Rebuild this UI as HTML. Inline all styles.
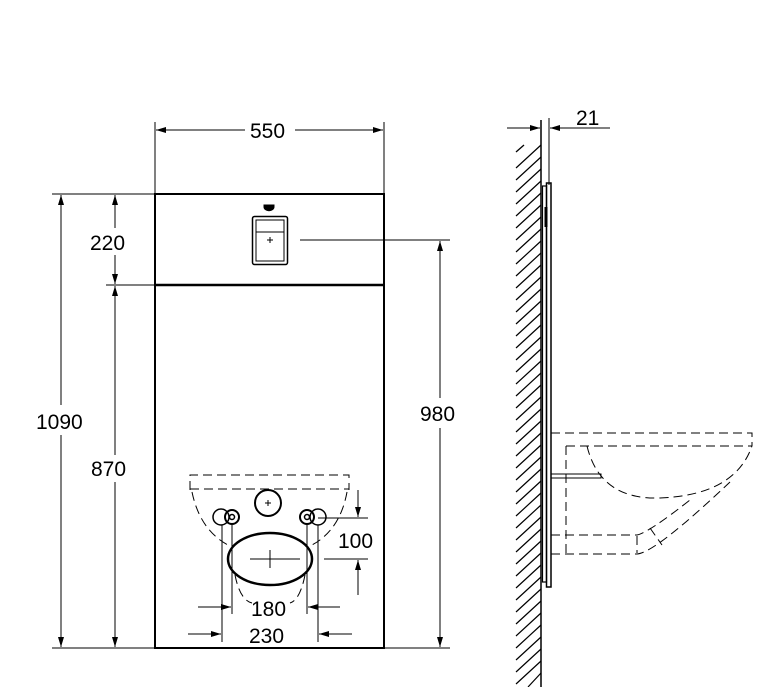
<!DOCTYPE html>
<html><head><style>
html,body{margin:0;padding:0;background:#fff;}
svg{display:block}
text{font-family:"Liberation Sans",sans-serif;font-size:21px;fill:#000}
</style></head><body>
<svg width="781" height="687" viewBox="0 0 781 687" xmlns="http://www.w3.org/2000/svg">
<defs>
<marker id="a" viewBox="0 0 10 6" refX="10" refY="3" markerWidth="12" markerHeight="6" markerUnits="userSpaceOnUse" orient="auto"><path d="M0,0L10,3L0,6z" fill="#000"/></marker>
</defs>
<g stroke="#000" fill="none" stroke-width="1">
<line x1="155" y1="122" x2="155" y2="194"/>
<line x1="384" y1="122" x2="384" y2="194"/>
<line x1="245" y1="130" x2="156" y2="130" marker-end="url(#a)"/>
<line x1="295" y1="130" x2="383" y2="130" marker-end="url(#a)"/>
<rect x="155" y="194" width="229" height="454" stroke-width="2"/>
<line x1="155" y1="285" x2="384" y2="285" stroke-width="2.5"/>
<line x1="52" y1="194" x2="155" y2="194"/>
<line x1="106" y1="285" x2="155" y2="285"/>
<line x1="52" y1="648" x2="450" y2="648"/>
<line x1="61" y1="405" x2="61" y2="195" marker-end="url(#a)"/>
<line x1="61" y1="435" x2="61" y2="647" marker-end="url(#a)"/>
<line x1="115" y1="228" x2="115" y2="195" marker-end="url(#a)"/>
<line x1="115" y1="255" x2="115" y2="284" marker-end="url(#a)"/>
<line x1="115" y1="455" x2="115" y2="286" marker-end="url(#a)"/>
<line x1="115" y1="482" x2="115" y2="647" marker-end="url(#a)"/>
<line x1="300" y1="240" x2="450" y2="240"/>
<line x1="440" y1="398" x2="440" y2="241" marker-end="url(#a)"/>
<line x1="440" y1="428" x2="440" y2="647" marker-end="url(#a)"/>
<rect x="252.5" y="216.5" width="35" height="48" rx="2" stroke-width="1.5"/>
<rect x="256" y="220" width="28" height="41" stroke-width="1"/>
<line x1="256" y1="232" x2="284" y2="232"/>
<line x1="267" y1="240" x2="273" y2="240"/><line x1="270" y1="237" x2="270" y2="243"/>
<path d="M264,205 h10 v2 a4,3 0 0 1 -10,0z" fill="#000"/>
<g stroke-dasharray="9,5">
<path d="M190,490 V475 H349 V490"/>
<line x1="190" y1="489" x2="349" y2="489"/>
<path d="M192,492 Q200,530 228,545"/>
<path d="M347,492 Q340,530 312,545"/>
<path d="M235,575 Q240,600 252,603"/>
<path d="M305,575 Q300,600 290,603"/>
</g>
<circle cx="268" cy="503" r="13" stroke-width="2"/>
<line x1="265" y1="503" x2="271" y2="503"/><line x1="268" y1="500" x2="268" y2="506"/>
<circle cx="221" cy="517" r="8" stroke-width="1.5"/>
<circle cx="232" cy="517" r="7" stroke-width="2"/>
<circle cx="232" cy="517" r="2.5" stroke-width="1.5"/>
<circle cx="318" cy="517" r="8" stroke-width="1.5"/>
<circle cx="307" cy="517" r="7" stroke-width="2"/>
<circle cx="307" cy="517" r="2.5" stroke-width="1.5"/>
<ellipse cx="270" cy="559" rx="42" ry="26" stroke-width="2.5"/>
<line x1="270" y1="550" x2="270" y2="568"/><line x1="250" y1="559" x2="300" y2="559"/>
<line x1="318" y1="518" x2="368" y2="518"/>
<line x1="324" y1="559" x2="368" y2="559"/>
<line x1="358" y1="490" x2="358" y2="517" marker-end="url(#a)"/>
<line x1="358" y1="595" x2="358" y2="560" marker-end="url(#a)"/>
<line x1="232" y1="525" x2="232" y2="614"/>
<line x1="307" y1="525" x2="307" y2="614"/>
<line x1="222" y1="525" x2="222" y2="642"/>
<line x1="318" y1="525" x2="318" y2="642"/>
<line x1="198" y1="607" x2="231" y2="607" marker-end="url(#a)"/>
<line x1="340" y1="607" x2="308" y2="607" marker-end="url(#a)"/>
<line x1="188" y1="634" x2="221" y2="634" marker-end="url(#a)"/>
<line x1="352" y1="634" x2="319" y2="634" marker-end="url(#a)"/>
<line x1="541" y1="120" x2="541" y2="687" stroke-width="1.5"/>
<line x1="549" y1="118" x2="549" y2="185"/>
<line x1="507" y1="128" x2="540" y2="128" marker-end="url(#a)"/>
<line x1="610" y1="128" x2="550" y2="128" marker-end="url(#a)"/>
<line x1="516" y1="152" x2="524" y2="145" stroke-width="1.3"/>
<path d="M516,168 L541,145 M516,180 L541,157 M516,192 L541,169 M516,204 L541,181 M516,216 L541,193 M516,228 L541,205 M516,240 L541,217 M516,252 L541,229 M516,264 L541,241 M516,276 L541,253 M516,288 L541,265 M516,300 L541,277 M516,312 L541,289 M516,324 L541,301 M516,336 L541,313 M516,348 L541,325 M516,360 L541,337 M516,372 L541,349 M516,384 L541,361 M516,396 L541,373 M516,408 L541,385 M516,420 L541,397 M516,432 L541,409 M516,444 L541,421 M516,456 L541,433 M516,468 L541,445 M516,480 L541,457 M516,492 L541,469 M516,504 L541,481 M516,516 L541,493 M516,528 L541,505 M516,540 L541,517 M516,552 L541,529 M516,564 L541,541 M516,576 L541,553 M516,588 L541,565 M516,600 L541,577 M516,612 L541,589 M516,624 L541,601 M516,636 L541,613 M516,648 L541,625 M516,660 L541,637 M516,672 L541,649 M516,684 L541,661 M528,687 L541,673" stroke-width="1.2"/>
<rect x="542.5" y="186" width="4" height="396" stroke-width="1.2"/>
<rect x="546.5" y="183" width="4.5" height="404" stroke-width="1.5"/>
<path d="M546,207 v20" stroke-width="3"/>
<rect x="551" y="474" width="50" height="4" stroke-width="1"/>
<g stroke-dasharray="9,5">
<path d="M551,433 H752 V446"/>
<line x1="566" y1="446" x2="752" y2="446"/>
<line x1="566" y1="446" x2="566" y2="555"/>
<path d="M587,446 Q600,500 660,498 Q735,495 752,446"/>
<path d="M551,535 H637 Q648,533 690,500"/>
<path d="M551,554 H637 Q655,553 730,482"/>
<line x1="637" y1="536" x2="637" y2="553"/>
<line x1="650" y1="528" x2="662" y2="545"/>
</g>
</g>
<text x="250" y="138">550</text>
<text x="90" y="250">220</text>
<text x="36" y="429">1090</text>
<text x="91" y="476">870</text>
<text x="420" y="421">980</text>
<text x="338" y="548">100</text>
<text x="251" y="616">180</text>
<text x="249" y="643">230</text>
<text x="576" y="125">21</text>
</svg>
</body></html>
